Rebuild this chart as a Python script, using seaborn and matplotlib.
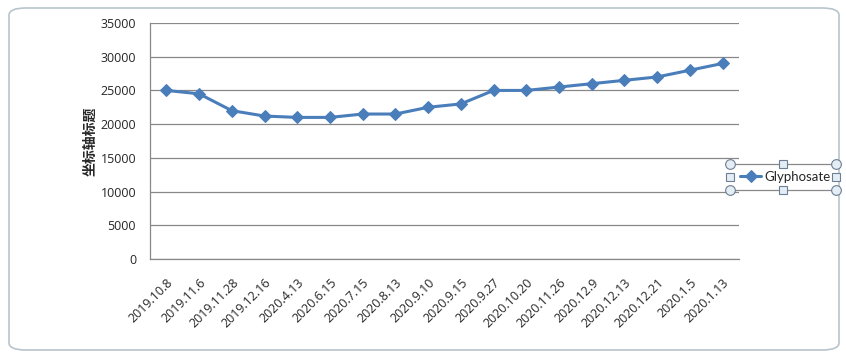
import numpy as np
import pandas as pd
import seaborn as sns
import matplotlib.pyplot as plt
from matplotlib.patches import FancyBboxPatch
from matplotlib.lines import Line2D

# Chart data
dates = ['2019.10.8', '2019.11.6', '2019.11.28', '2019.12.16', '2020.4.13', '2020.6.15',
         '2020.7.15', '2020.8.13', '2020.9.10', '2020.9.15', '2020.9.27', '2020.10.20',
         '2020.11.26', '2020.12.9', '2020.12.13', '2020.12.21', '2020.1.5', '2020.1.13']
glyphosate = [25000, 24500, 22000, 21200, 21000, 21000, 21500, 21500, 22500, 23000,
              25000, 25000, 25500, 26000, 26500, 27000, 28000, 29000]
y_ticks = [0, 5000, 10000, 15000, 20000, 25000, 30000, 35000]

df = pd.DataFrame({'pos': np.arange(len(dates)), 'price': glyphosate})

sns.set_style('white')
plt.rcParams['font.family'] = ['Noto Sans CJK SC', 'DejaVu Sans']

line_color = '#4A7EBB'
W, H = 846, 356

fig = plt.figure(figsize=(8.46, 3.56), dpi=100)
ax = fig.add_axes([150 / W, 1 - 259 / H, 589 / W, 236 / H])

sns.lineplot(data=df, x='pos', y='price', ax=ax, color=line_color, linewidth=2.2,
             marker='D', markersize=6.5, markeredgecolor=line_color, label='Glyphosate')

ax.set_xlim(-0.5, len(dates) - 0.5)
ax.set_ylim(0, 35000)
ax.set_yticks(y_ticks)
ax.set_yticklabels([str(v) for v in y_ticks], fontsize=9, family='Open Sans')
ax.set_xticks(df['pos'])
ax.set_xticklabels(dates, rotation=45, ha='right', rotation_mode='anchor', fontsize=9,
                   family='Open Sans')
ax.tick_params(axis='y', length=0, pad=10)
ax.tick_params(axis='x', length=0, pad=12)
ax.yaxis.grid(True, color='#888888', linewidth=0.9)
ax.set_axisbelow(True)
for s in ['top', 'right']:
    ax.spines[s].set_visible(False)
for s in ['left', 'bottom']:
    ax.spines[s].set_color('#888888')
    ax.spines[s].set_linewidth(0.9)
ax.set_xlabel('')
ax.set_ylabel('坐标轴标题', fontsize=10, fontweight='bold', labelpad=2)

leg = ax.legend(loc='center left', bbox_to_anchor=(731 / W, 1 - 177 / H),
                bbox_transform=fig.transFigure, frameon=False,
                handlelength=1.6, handletextpad=0.2, borderpad=0.2,
                prop={'family': 'Lato', 'size': 9.5})

# legend selection box with handles (Excel style)
lx0, lx1, ly0, ly1 = 730, 836, 164, 190
for py in [ly0, ly1]:
    fig.add_artist(Line2D([lx0 / W, lx1 / W], [1 - py / H, 1 - py / H], transform=fig.transFigure,
                          color='#888888', linewidth=0.9))
for (px, py) in [(lx0, ly0), (lx1, ly0), (lx0, ly1), (lx1, ly1)]:
    fig.add_artist(Line2D([px / W], [1 - py / H], transform=fig.transFigure, marker='o',
                          markersize=7, markerfacecolor='#e4ecf4', markeredgecolor='#6d7f94',
                          markeredgewidth=0.8, linestyle='none'))
for (px, py) in [((lx0 + lx1) / 2, ly0), ((lx0 + lx1) / 2, ly1), (lx0, (ly0 + ly1) / 2), (lx1, (ly0 + ly1) / 2)]:
    fig.add_artist(Line2D([px / W], [1 - py / H], transform=fig.transFigure, marker='s',
                          markersize=5.5, markerfacecolor='#e4ecf4', markeredgecolor='#6d7f94',
                          markeredgewidth=0.8, linestyle='none'))

# chart frame
fig.add_artist(FancyBboxPatch((9 / W, 6 / H), 830 / W, 342 / H,
                              boxstyle='round,pad=0,rounding_size=0.02',
                              transform=fig.transFigure, facecolor='none',
                              edgecolor='#b8c4cc', linewidth=1.2))

fig.savefig('out.png', dpi=100)
